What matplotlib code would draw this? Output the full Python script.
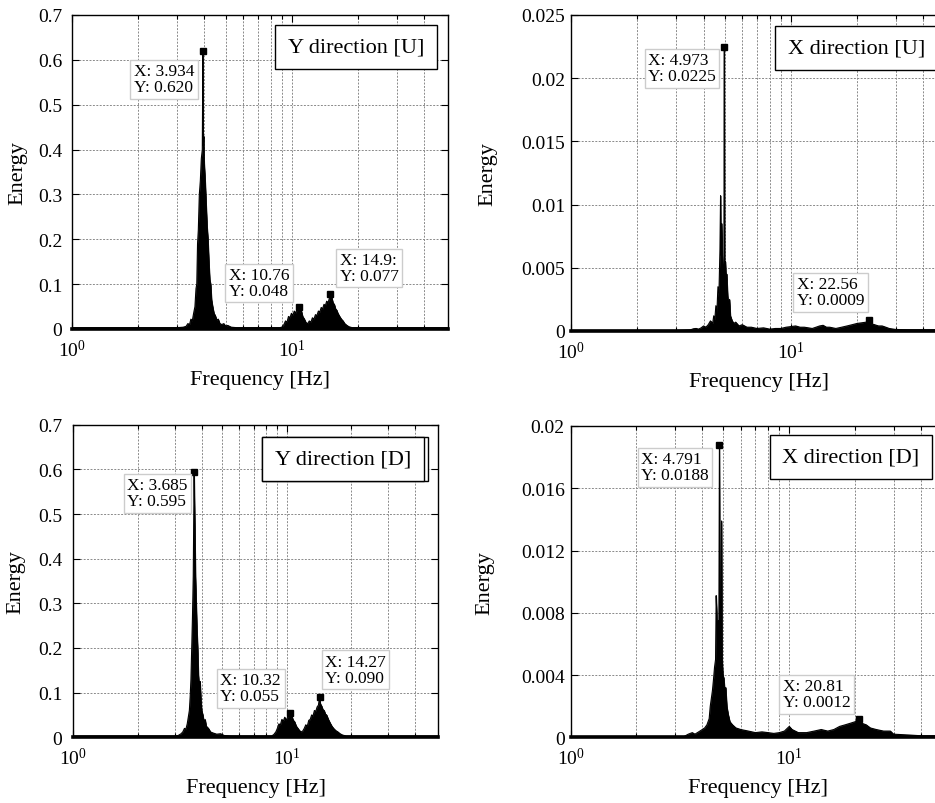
import matplotlib
matplotlib.use('Agg')
import matplotlib.pyplot as plt
from matplotlib.patches import Rectangle
from matplotlib.transforms import IdentityTransform
from matplotlib.ticker import FixedLocator, FixedFormatter, NullFormatter

plt.rcParams['font.family'] = ['Liberation Serif', 'DejaVu Serif']
plt.rcParams['mathtext.fontset'] = 'custom'
plt.rcParams['mathtext.rm'] = 'Liberation Serif'
plt.rcParams['mathtext.it'] = 'Liberation Serif:italic'
plt.rcParams['mathtext.bf'] = 'Liberation Serif:bold'

# ---------------- data ----------------
yu_freq = [1.0, 1.5, 2.0, 2.5, 3.0, 3.2, 3.3, 3.36, 3.42, 3.47, 3.52, 3.57, 3.62, 3.66,
           3.69, 3.72, 3.75, 3.79, 3.83, 3.87, 3.91, 3.934, 3.945, 3.965, 3.99, 4.03, 4.07,
           4.11, 4.15, 4.19, 4.23, 4.27, 4.31, 4.36, 4.42, 4.48, 4.55, 4.62, 4.7, 4.8, 4.9,
           5.0, 5.1, 5.3, 5.6, 7.0, 8.8, 9.0, 9.2, 9.35, 9.5, 9.65, 9.8, 9.95, 10.1, 10.25,
           10.4, 10.55, 10.76, 10.9, 11.05, 11.2, 11.4, 11.6, 11.8, 12.0, 12.2, 12.4, 12.6,
           12.8, 13.0, 13.2, 13.4, 13.6, 13.8, 14.0, 14.2, 14.4, 14.6, 14.8, 14.93, 15.05,
           15.2, 15.4, 15.6, 15.8, 16.0, 16.2, 16.5, 16.8, 17.1, 17.4, 17.8, 18.2, 18.8,
           25.0, 51.2]
yu_energy = [0.003, 0.003, 0.003, 0.003, 0.003, 0.004, 0.006, 0.012, 0.01, 0.022, 0.018,
             0.035, 0.05, 0.09, 0.1, 0.19, 0.22, 0.30, 0.33, 0.38, 0.40, 0.62, 0.41, 0.43,
             0.37, 0.33, 0.28, 0.23, 0.20, 0.15, 0.11, 0.10, 0.065, 0.05, 0.035, 0.03, 0.02,
             0.022, 0.012, 0.01, 0.012, 0.006, 0.008, 0.004, 0.003, 0.003, 0.003, 0.004,
             0.01, 0.018, 0.015, 0.028, 0.025, 0.035, 0.03, 0.04, 0.036, 0.042, 0.048, 0.038,
             0.04, 0.028, 0.022, 0.014, 0.012, 0.018, 0.015, 0.025, 0.022, 0.032, 0.03, 0.04,
             0.038, 0.048, 0.045, 0.055, 0.052, 0.062, 0.058, 0.068, 0.077, 0.065, 0.07,
             0.058, 0.055, 0.045, 0.042, 0.035, 0.028, 0.022, 0.018, 0.012, 0.008, 0.005,
             0.003, 0.003, 0.003]

xu_freq = [1.0, 3.0, 3.5, 3.6, 3.7, 3.8, 3.9, 4.0, 4.1, 4.2, 4.3, 4.4, 4.45, 4.5, 4.55,
           4.6, 4.65, 4.7, 4.75, 4.78, 4.8, 4.84, 4.88, 4.92, 4.95, 4.973, 4.99, 5.03, 5.07,
           5.1, 5.15, 5.2, 5.25, 5.3, 5.4, 5.5, 5.6, 5.8, 6.0, 6.3, 6.6, 7.0, 7.5, 8.0, 8.5,
           9.0, 9.5, 10.0, 10.5, 11.0, 11.5, 12.0, 12.5, 13.0, 13.5, 14.0, 14.5, 15.0, 16.0,
           17.0, 18.0, 19.0, 20.0, 21.0, 22.0, 22.56, 23.0, 24.0, 25.0, 26.0, 27.0, 28.0,
           30.0, 35.0, 40.0, 51.2]
xu_energy = [0.00005, 0.00005, 0.0001, 0.00018, 0.0002, 0.00015, 0.00025, 0.0004, 0.0003,
             0.0005, 0.0008, 0.0006, 0.0012, 0.0009, 0.002, 0.0015, 0.0035, 0.003, 0.0065,
             0.0107, 0.006, 0.0085, 0.005, 0.0045, 0.006, 0.0225, 0.005, 0.0055, 0.004,
             0.0045, 0.0028, 0.002, 0.0025, 0.0012, 0.0008, 0.0006, 0.0007, 0.0004, 0.0005,
             0.0003, 0.0003, 0.0002, 0.00025, 0.00015, 0.0002, 0.0002, 0.0003, 0.00035,
             0.0004, 0.0003, 0.0003, 0.00025, 0.0002, 0.0003, 0.0004, 0.00045, 0.0003,
             0.0003, 0.0002, 0.0003, 0.0004, 0.0005, 0.0006, 0.00065, 0.0007, 0.0009, 0.0006,
             0.0005, 0.0004, 0.0004, 0.0003, 0.0002, 0.00012, 0.0001, 0.0001, 0.0001]

yd_freq = [1.0, 3.0, 3.1, 3.2, 3.26, 3.32, 3.37, 3.42, 3.46, 3.5, 3.53, 3.56, 3.59, 3.62,
           3.65, 3.685, 3.7, 3.72, 3.74, 3.77, 3.8, 3.83, 3.86, 3.9, 3.93, 3.97, 4.0, 4.05,
           4.1, 4.15, 4.2, 4.3, 4.4, 4.5, 4.7, 4.9, 5.1, 5.5, 8.5, 8.7, 8.9, 9.05, 9.2, 9.35,
           9.5, 9.65, 9.8, 9.95, 10.1, 10.32, 10.45, 10.6, 10.75, 10.9, 11.1, 11.3, 11.5,
           11.7, 11.9, 12.1, 12.3, 12.5, 12.7, 12.9, 13.1, 13.3, 13.5, 13.7, 13.9, 14.1,
           14.27, 14.4, 14.6, 14.8, 15.0, 15.2, 15.4, 15.7, 16.0, 16.3, 16.6, 17.0, 17.4,
           17.8, 18.3, 19.0, 51.2]
yd_energy = [0.003, 0.003, 0.004, 0.008, 0.012, 0.02, 0.018, 0.03, 0.045, 0.06, 0.09, 0.13,
             0.2, 0.27, 0.36, 0.595, 0.53, 0.45, 0.36, 0.3, 0.24, 0.2, 0.14, 0.11, 0.125,
             0.08, 0.06, 0.05, 0.035, 0.04, 0.025, 0.02, 0.012, 0.01, 0.007, 0.008, 0.004,
             0.003, 0.003, 0.006, 0.012, 0.02, 0.03, 0.028, 0.04, 0.036, 0.045, 0.038, 0.045,
             0.055, 0.042, 0.046, 0.038, 0.035, 0.025, 0.02, 0.015, 0.012, 0.014, 0.02,
             0.028, 0.025, 0.038, 0.04, 0.05, 0.048, 0.06, 0.058, 0.068, 0.072, 0.09, 0.075,
             0.07, 0.062, 0.06, 0.052, 0.05, 0.04, 0.032, 0.025, 0.02, 0.015, 0.012, 0.008,
             0.005, 0.003, 0.003]

xd_freq = [1.0, 3.3, 3.45, 3.6, 3.7, 3.8, 3.9, 4.0, 4.1, 4.2, 4.3, 4.35, 4.4, 4.45, 4.5,
           4.55, 4.6, 4.63, 4.66, 4.7, 4.73, 4.76, 4.791, 4.82, 4.86, 4.9, 4.93, 4.97, 5.02,
           5.07, 5.12, 5.18, 5.25, 5.35, 5.5, 5.7, 6.0, 6.5, 7.0, 7.5, 8.0, 8.5, 9.0, 9.5,
           10.0, 10.3, 11.0, 12.0, 13.0, 14.0, 15.0, 16.0, 17.0, 18.0, 19.0, 20.0, 20.81,
           21.5, 22.5, 23.5, 25.0, 27.0, 29.0, 30.0, 35.0, 40.0, 51.2]
xd_energy = [0.00005, 0.00005, 0.0002, 0.0003, 0.0002, 0.0003, 0.0004, 0.0005, 0.0006,
             0.0008, 0.0012, 0.002, 0.0025, 0.003, 0.0037, 0.0045, 0.005, 0.0091, 0.008,
             0.006, 0.0075, 0.006, 0.0188, 0.007, 0.006, 0.0139, 0.005, 0.004, 0.0038, 0.003,
             0.0032, 0.002, 0.0015, 0.001, 0.0008, 0.0006, 0.0005, 0.0004, 0.0003, 0.00035,
             0.0003, 0.00025, 0.0003, 0.0004, 0.0007, 0.0005, 0.0003, 0.0003, 0.0004, 0.0005,
             0.0004, 0.0005, 0.0007, 0.0008, 0.0009, 0.001, 0.0012, 0.0009, 0.0008, 0.0006,
             0.0005, 0.0004, 0.0004, 0.0002, 0.00015, 0.0001, 0.0001]

panel_titles = ['Y direction [U]', 'X direction [U]', 'Y direction [D]', 'X direction [D]']

yu_ticks = [0, 0.1, 0.2, 0.3, 0.4, 0.5, 0.6, 0.7]
yu_ticklabels = ['0', '0.1', '0.2', '0.3', '0.4', '0.5', '0.6', '0.7']
xu_ticks = [0, 0.005, 0.01, 0.015, 0.02, 0.025]
xu_ticklabels = ['0', '0.005', '0.01', '0.015', '0.02', '0.025']
yd_ticks = [0, 0.1, 0.2, 0.3, 0.4, 0.5, 0.6, 0.7]
yd_ticklabels = ['0', '0.1', '0.2', '0.3', '0.4', '0.5', '0.6', '0.7']
xd_ticks = [0, 0.004, 0.008, 0.012, 0.016, 0.02]
xd_ticklabels = ['0', '0.004', '0.008', '0.012', '0.016', '0.02']

freq_major = [1, 10]
freq_major_labels = ['$10^0$', '$10^1$']
freq_minor = [2, 3, 4, 5, 6, 7, 8, 9, 20, 30, 40]

# data tips (x, y, label)
yu_tips_x = [3.934, 10.76, 14.93]
yu_tips_y = [0.620, 0.048, 0.077]
yu_tips_text = ['X: 3.934\nY: 0.620', 'X: 10.76\nY: 0.048', 'X: 14.9:\nY: 0.077']
xu_tips_x = [4.973, 22.56]
xu_tips_y = [0.0225, 0.0009]
xu_tips_text = ['X: 4.973\nY: 0.0225', 'X: 22.56\nY: 0.0009']
yd_tips_x = [3.685, 10.32, 14.27]
yd_tips_y = [0.595, 0.055, 0.090]
yd_tips_text = ['X: 3.685\nY: 0.595', 'X: 10.32\nY: 0.055', 'X: 14.27\nY: 0.090']
xd_tips_x = [4.791, 20.81]
xd_tips_y = [0.0188, 0.0012]
xd_tips_text = ['X: 4.791\nY: 0.0188', 'X: 20.81\nY: 0.0012']

# ---------------- layout ----------------
W, H = 935, 804
DPI = 100
fig = plt.figure(figsize=(W / DPI, H / DPI), dpi=DPI)
fig.patch.set_facecolor('white')

XMAX = 51.2
TICK_FS = 14
LABEL_FS = 16
TIP_FS = 12.5

# pixel boxes: left, top, right, bottom
panels = [
    dict(box=(72.2, 16, 447.7, 330), freq=yu_freq, energy=yu_energy, ylim=0.7,
         yt=yu_ticks, ytl=yu_ticklabels, tx=yu_tips_x, ty=yu_tips_y, tt=yu_tips_text,
         tipoff=[(-5, 9, 'll'), (-6, -5, 'ul'), (6, -7, 'ur')],
         legoff=(-10.7, 10), ypad=7.0, ylab=45, double=False),
    dict(box=(571.3, 16, 946.8, 332), freq=xu_freq, energy=xu_energy, ylim=0.025,
         yt=xu_ticks, ytl=xu_ticklabels, tx=xu_tips_x, ty=xu_tips_y, tt=xu_tips_text,
         tipoff=[(-5, 2, 'll'), (-1, -8, 'ul')],
         legoff=(-9.0, 11), ypad=4.5, ylab=74, double=False),
    dict(box=(73.3, 425.7, 437.9, 738.3), freq=yd_freq, energy=yd_energy, ylim=0.7,
         yt=yd_ticks, ytl=yd_ticklabels, tx=yd_tips_x, ty=yd_tips_y, tt=yd_tips_text,
         tipoff=[(-3, 2, 'll'), (-5, -5, 'ul'), (2, -8, 'ur')],
         legoff=(-13.9, 12.3), ypad=7.8, ylab=48, double=True),
    dict(box=(570.7, 427, 944.3, 738.3), freq=xd_freq, energy=xd_energy, ylim=0.02,
         yt=xd_ticks, ytl=xd_ticklabels, tx=xd_tips_x, ty=xd_tips_y, tt=xd_tips_text,
         tipoff=[(-7, 3, 'll'), (-5, -5, 'ul')],
         legoff=(-12.3, 9), ypad=4.2, ylab=76, double=False),
]

grid_kw = dict(color='#8a8a8a', linestyle=(0, (2, 1.5)), linewidth=0.7)
tip_pad = 0.2
tip_pad_px = tip_pad * TIP_FS * DPI / 72.0
leg_pad = 0.57

double_boxes = []
for p, title in zip(panels, panel_titles):
    l, t, r, b = p['box']
    ax = fig.add_axes([l / W, 1 - b / H, (r - l) / W, (b - t) / H])
    ax.set_xscale('log')
    ax.set_xlim(1, XMAX)
    ax.set_ylim(0, p['ylim'])

    ax.fill_between(p['freq'], 0, p['energy'], color='black', linewidth=0.5, zorder=3)
    ax.plot(p['freq'], p['energy'], color='black', linewidth=0.8, zorder=3)

    ax.xaxis.set_major_locator(FixedLocator(freq_major))
    ax.xaxis.set_major_formatter(FixedFormatter(freq_major_labels))
    ax.xaxis.set_minor_locator(FixedLocator(freq_minor))
    ax.xaxis.set_minor_formatter(NullFormatter())
    ax.yaxis.set_major_locator(FixedLocator(p['yt']))
    ax.yaxis.set_major_formatter(FixedFormatter(p['ytl']))

    ax.tick_params(which='both', direction='in', top=True, right=True, labelsize=TICK_FS,
                   width=0.8, colors='black')
    ax.tick_params(which='major', length=5)
    ax.tick_params(which='minor', length=3)
    ax.tick_params(axis='x', which='major', pad=7)
    ax.tick_params(axis='y', which='major', pad=p['ypad'])

    ax.grid(True, which='both', axis='x', **grid_kw)
    ax.grid(True, which='major', axis='y', **grid_kw)
    ax.set_axisbelow(True)
    for name, s in ax.spines.items():
        s.set_linewidth(1.0)
        s.set_color('black')
        s.set_zorder(4)
    ax.spines['bottom'].set_linewidth(2.6)

    w_px, h_px = r - l, b - t
    ax.set_xlabel('Frequency [Hz]', fontsize=LABEL_FS)
    ax.xaxis.set_label_coords(0.5, -41 / h_px)
    ax.set_ylabel('Energy', fontsize=LABEL_FS)
    ax.yaxis.set_label_coords(-p['ylab'] / w_px, 0.5)

    # data tips
    ax.plot(p['tx'], p['ty'], 's', color='black', markersize=4.8, zorder=6)
    for xv, yv, txt, (dx, dy, q) in zip(p['tx'], p['ty'], p['tt'], p['tipoff']):
        if q == 'll':
            ha, va = 'right', 'top'
            ox, oy = dx - tip_pad_px, -(dy + tip_pad_px)
        elif q == 'ul':
            ha, va = 'right', 'bottom'
            ox, oy = dx - tip_pad_px, -dy + tip_pad_px
        else:
            ha, va = 'left', 'bottom'
            ox, oy = dx + tip_pad_px, -dy + tip_pad_px
        ax.annotate(txt, xy=(xv, yv), xytext=(ox, oy), textcoords='offset pixels',
                    ha=ha, va=va, multialignment='left', fontsize=TIP_FS,
                    linespacing=1.0, zorder=7,
                    bbox=dict(boxstyle='square,pad=%g' % tip_pad, fc='white',
                              ec='#cccccc', lw=1.0))

    # legend-like title box
    ldx, ldy = p['legoff']
    lpad_px = leg_pad * LABEL_FS * DPI / 72.0
    ann = ax.annotate(title, xy=(1, 1), xycoords='axes fraction',
                      xytext=(ldx - lpad_px, -(ldy + lpad_px)), textcoords='offset pixels',
                      ha='right', va='top', fontsize=LABEL_FS, zorder=9, annotation_clip=False,
                      bbox=dict(boxstyle='square,pad=%g' % leg_pad, fc='white', ec='black',
                                lw=1.0))
    if p['double']:
        double_boxes.append((ax, ann))

# second frame behind the "[D]" legend box (as in the original)
fig.canvas.draw()
for ax, ann in double_boxes:
    bb = ann.get_bbox_patch().get_window_extent()
    ax.add_patch(Rectangle((bb.x0, bb.y0), bb.width + 4, bb.height, transform=IdentityTransform(),
                           fc='white', ec='black', lw=1.0, zorder=8, clip_on=False))

fig.savefig('out.png', dpi=DPI, facecolor='white')
